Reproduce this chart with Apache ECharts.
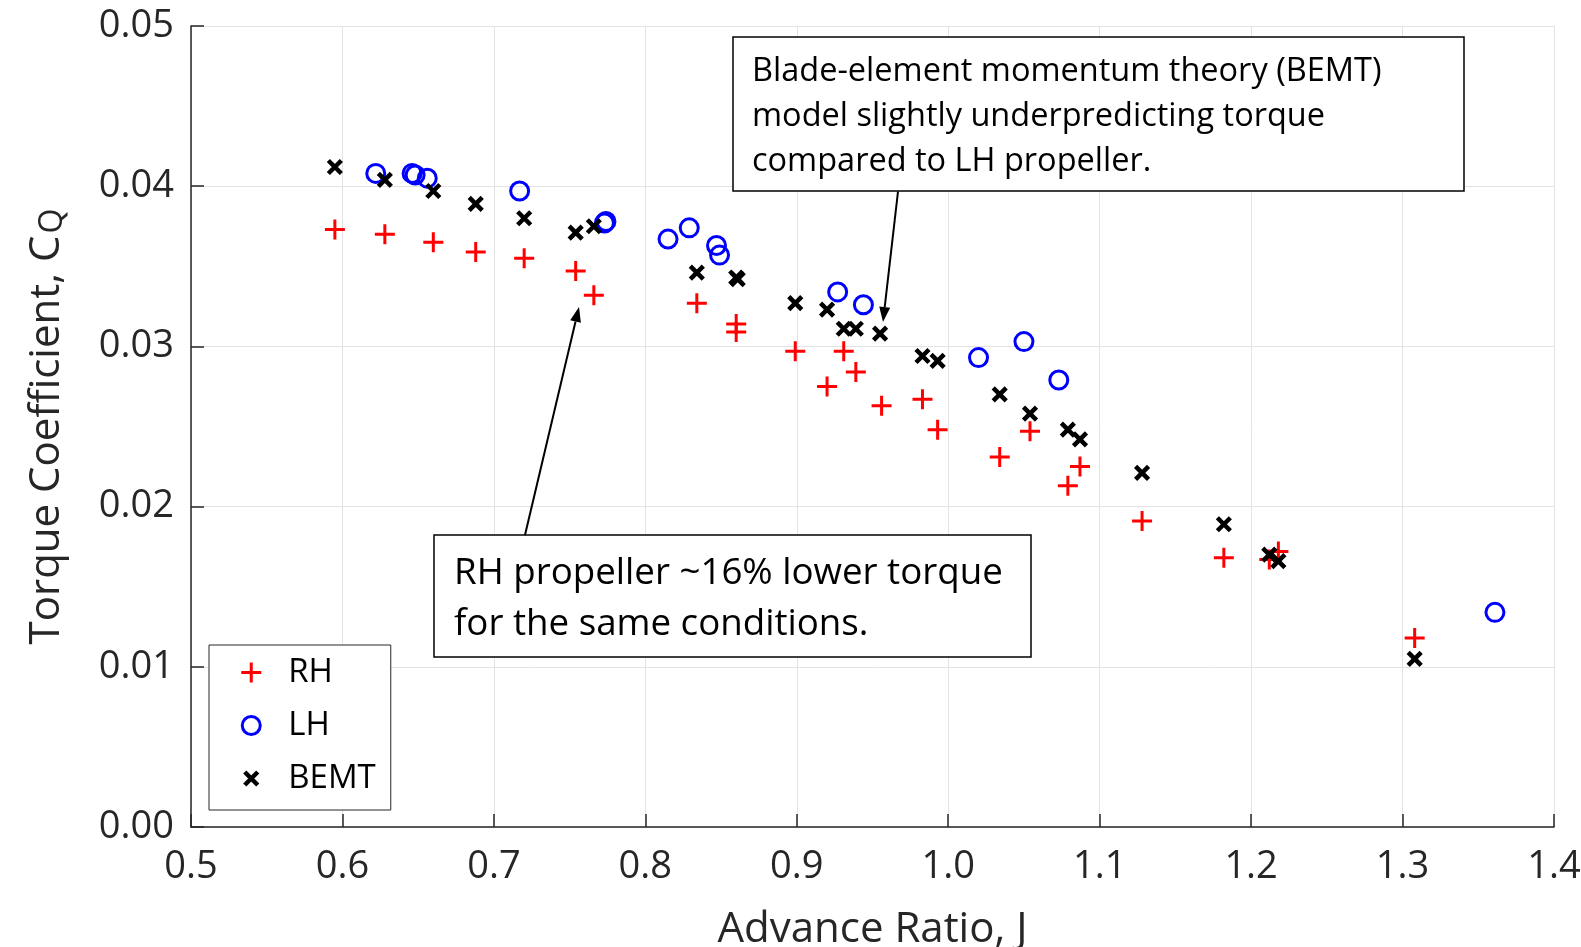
<!DOCTYPE html>
<html>
<head>
<meta charset="utf-8">
<script src="https://cdn.jsdelivr.net/npm/echarts@6/dist/echarts.min.js"></script>
<style>
  html, body { margin: 0; padding: 0; background: #ffffff; }
  #chart { width: 1581px; height: 947px; }
</style>
</head>
<body>
<div id="chart"></div>
<script>
// Advance ratio J and torque coefficient C_Q for each data set
const rhJ  = [0.595, 0.628, 0.660, 0.688, 0.720, 0.754, 0.766, 0.834, 0.860, 0.860, 0.899, 0.920, 0.931,
              0.939, 0.956, 0.983, 0.993, 1.034, 1.054, 1.079, 1.087, 1.128, 1.182, 1.212, 1.218, 1.308];
const rhCQ = [0.0373, 0.0370, 0.0365, 0.0359, 0.0355, 0.0347, 0.0332, 0.0327, 0.0314, 0.0309, 0.0297, 0.0275, 0.0297,
              0.0284, 0.0263, 0.0267, 0.0248, 0.0231, 0.0247, 0.0213, 0.0225, 0.0191, 0.0168, 0.0167, 0.0172, 0.0118];

const lhJ  = [0.622, 0.646, 0.648, 0.656, 0.717, 0.773, 0.774, 0.815, 0.829, 0.847, 0.849, 0.927, 0.944,
              1.020, 1.050, 1.073, 1.361];
const lhCQ = [0.0408, 0.0408, 0.0407, 0.0405, 0.0397, 0.0377, 0.0378, 0.0367, 0.0374, 0.0363, 0.0357, 0.0334, 0.0326,
              0.0293, 0.0303, 0.0279, 0.0134];

const bemtJ  = [0.595, 0.628, 0.660, 0.688, 0.720, 0.754, 0.766, 0.834, 0.860, 0.861, 0.899, 0.920, 0.931,
                0.939, 0.955, 0.983, 0.993, 1.034, 1.054, 1.079, 1.087, 1.128, 1.182, 1.212, 1.218, 1.308];
const bemtCQ = [0.0412, 0.0404, 0.0397, 0.0389, 0.0380, 0.0371, 0.0375, 0.0346, 0.0343, 0.0342, 0.0327, 0.0323, 0.0311,
                0.0311, 0.0308, 0.0294, 0.0291, 0.0270, 0.0258, 0.0248, 0.0242, 0.0221, 0.0189, 0.0170, 0.0166, 0.0105];

const seriesNames = ['RH', 'LH', 'BEMT'];
const xTickLabels = ['0.5', '0.6', '0.7', '0.8', '0.9', '1.0', '1.1', '1.2', '1.3', '1.4'];
const yTickLabels = ['0.00', '0.01', '0.02', '0.03', '0.04', '0.05'];

const bemtNote = ['Blade-element momentum theory (BEMT)', 'model slightly underpredicting torque', 'compared to LH propeller.'];
const rhNote = ['RH propeller ~16% lower torque', 'for the same conditions.'];

const FONT = '"Open Sans", "Noto Sans", sans-serif';
const AXIS_COLOR = '#262626';

// Marker shapes drawn in a 22 x 22 box: plus, ring, thick cross
const PLUS = 'path://M0,0M22,22M11,1L11,21M1,11L21,11';
const RING = 'path://M0,0M22,22M20,11A9,9,0,1,1,2,11A9,9,0,1,1,20,11Z';
const CROSS = 'path://M0,0M22,22M4.5,4.5L17.5,17.5M17.5,4.5L4.5,17.5';

function pairs(xs, ys) { return xs.map((x, i) => [x, ys[i]]); }

// Straight arrow with a filled head ending at (x2, y2)
function arrow(x1, y1, x2, y2) {
  const len = Math.hypot(x2 - x1, y2 - y1);
  const ux = (x2 - x1) / len, uy = (y2 - y1) / len;
  const headL = 15, headW = 5.5;
  const bx = x2 - ux * headL, by = y2 - uy * headL;
  const px = -uy, py = ux;
  return [
    { type: 'line', shape: { x1: x1, y1: y1, x2: bx, y2: by }, style: { stroke: '#000', lineWidth: 2 }, z: 20 },
    { type: 'polygon', shape: { points: [[x2, y2], [bx + px * headW, by + py * headW], [bx - px * headW, by - py * headW]] },
      style: { fill: '#000' }, z: 20 }
  ];
}

// Boxed multi-line note
function note(x, y, w, h, lines, textX, firstY, lineGap, size) {
  const els = [{ type: 'rect', shape: { x: x, y: y, width: w, height: h },
                 style: { fill: '#ffffff', stroke: '#000', lineWidth: 1.5 }, z: 20 }];
  lines.forEach((t, i) => {
    els.push({ type: 'text', x: textX, y: firstY + i * lineGap, z: 21,
               style: { text: t, fill: '#000', fontSize: size, fontFamily: FONT, verticalAlign: 'middle', align: 'left' } });
  });
  return els;
}

const chart = echarts.init(document.getElementById('chart'), null, { renderer: 'canvas' });

const option = {
  animation: false,
  backgroundColor: '#ffffff',
  grid: { left: 191, right: 27, top: 26, bottom: 120, containLabel: false, outerBoundsMode: 'none' },
  xAxis: {
    type: 'value', min: 0.5, max: 1.4, interval: 0.1,
    name: 'Advance Ratio, J', nameLocation: 'middle', nameGap: 82,
    nameTextStyle: { fontSize: 42, fontFamily: FONT, color: AXIS_COLOR },
    axisLine: { show: true, onZero: false, lineStyle: { color: AXIS_COLOR, width: 1.5 } },
    axisTick: { show: true, inside: true, length: 13, lineStyle: { color: AXIS_COLOR, width: 1.5 } },
    axisLabel: { margin: 21, fontSize: 38, fontFamily: FONT, color: AXIS_COLOR,
                 formatter: v => xTickLabels[Math.round((v - 0.5) * 10)] },
    splitLine: { show: true, lineStyle: { color: '#e3e3e3', width: 1 } }
  },
  yAxis: {
    type: 'value', min: 0, max: 0.05, interval: 0.01,
    name: 'Torque Coefficient, C{q|Q}', nameLocation: 'middle', nameGap: 122,
    nameTextStyle: {
      fontSize: 42, fontFamily: FONT, color: AXIS_COLOR, lineHeight: 44,
      rich: { q: { fontSize: 32, lineHeight: 32, fontFamily: FONT, color: AXIS_COLOR,
                   verticalAlign: 'bottom', padding: [60, 0, 0, 2] } }
    },
    axisLine: { show: true, lineStyle: { color: AXIS_COLOR, width: 1.5 } },
    axisTick: { show: true, inside: true, length: 13, lineStyle: { color: AXIS_COLOR, width: 1.5 } },
    axisLabel: { margin: 17, fontSize: 38, fontFamily: FONT, color: AXIS_COLOR,
                 formatter: v => yTickLabels[Math.round(v * 100)] },
    splitLine: { show: true, lineStyle: { color: '#e3e3e3', width: 1 } }
  },
  legend: {
    orient: 'vertical', left: 209, top: 645,
    padding: [11, 15, 15, 29],
    itemWidth: 64, itemHeight: 22, itemGap: 20,
    backgroundColor: '#ffffff', borderColor: AXIS_COLOR, borderWidth: 1,
    textStyle: { fontSize: 33, lineHeight: 33, fontFamily: FONT, color: '#000' },
    data: [
      { name: seriesNames[0], itemStyle: { borderWidth: 3 } },
      { name: seriesNames[1], itemStyle: { borderWidth: 3 } },
      { name: seriesNames[2], itemStyle: { borderWidth: 4.5 } }
    ]
  },
  series: [
    { name: seriesNames[0], type: 'scatter', data: pairs(rhJ, rhCQ), symbol: PLUS, symbolSize: 22,
      itemStyle: { color: '#ff0000', borderColor: '#ff0000', borderWidth: 3, opacity: 1 }, z: 3 },
    { name: seriesNames[1], type: 'scatter', data: pairs(lhJ, lhCQ), symbol: RING, symbolSize: 22,
      itemStyle: { color: 'rgba(0,0,0,0)', borderColor: '#0000ff', borderWidth: 3, opacity: 1 }, z: 4 },
    { name: seriesNames[2], type: 'scatter', data: pairs(bemtJ, bemtCQ), symbol: CROSS, symbolSize: 22,
      itemStyle: { color: '#000000', borderColor: '#000000', borderWidth: 4.5, opacity: 1 }, z: 5 }
  ],
  graphic: { elements: [].concat(
    note(733, 37, 731, 154, bemtNote, 752, 72, 45, 32.5),
    arrow(898, 191.5, 883, 322),
    note(434, 535, 597, 122, rhNote, 454, 574, 51, 36.7),
    arrow(525, 535, 579, 307)
  ) }
};

chart.setOption(option);
</script>
</body>
</html>
